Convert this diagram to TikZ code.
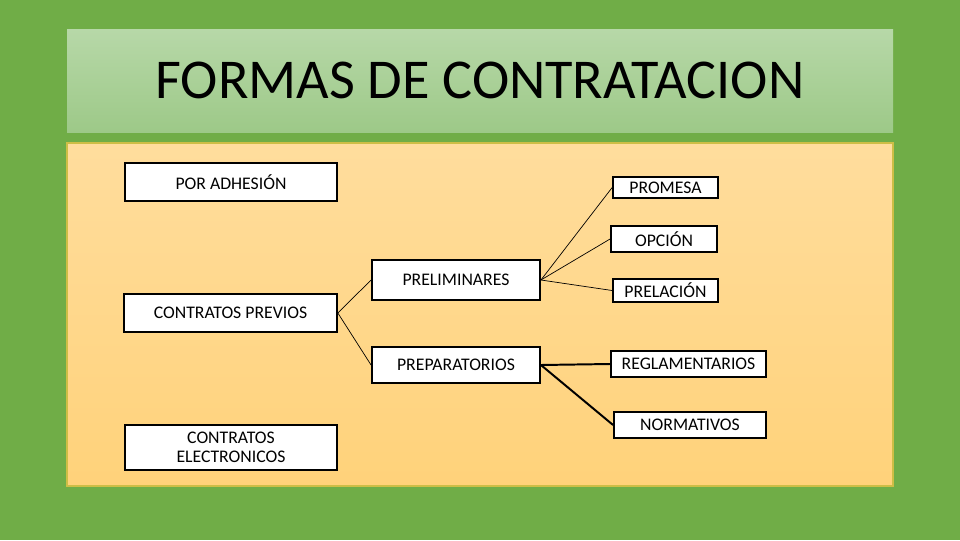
\documentclass[tikz,border=0pt]{standalone}
\usepackage{fontspec}
\setmainfont{Carlito}
\usepackage{tikz}
\usetikzlibrary{positioning}
\definecolor{fondoverde}{RGB}{112,173,71}
\definecolor{tituloarriba}{RGB}{183,216,168}
\definecolor{tituloabajo}{RGB}{157,201,136}
\definecolor{panelarriba}{RGB}{255,221,157}
\definecolor{panelabajo}{RGB}{255,210,122}
\definecolor{panelborde}{RGB}{205,190,70}

\begin{document}
\begin{tikzpicture}[x=0.025cm, y=-0.025cm,
    caja/.style={draw=black, fill=white, line width=1.3pt, inner sep=0pt, align=center, font=\fontsize{12.6}{13.5}\selectfont},
    rama/.style={line width=0.5pt},
    ramagruesa/.style={line width=1.4pt}
  ]
  % fondo y paneles
  \fill[fondoverde] (0,0) rectangle (960,540);
  \shade[top color=tituloarriba, bottom color=tituloabajo] (67,29) rectangle (893,132);
  \shade[top color=panelarriba, bottom color=panelabajo, draw=panelborde, line width=0.8pt] (67,143) rectangle (893,486);
  \node (titulo) at (480,80) {\fontsize{40}{44}\selectfont FORMAS DE CONTRATACION};

  % columna izquierda
  \node[caja, minimum width=5.3cm, minimum height=0.95cm] (adhesion) at (231,182) {POR ADHESIÓN};
  \node[caja, minimum width=5.32cm, minimum height=0.95cm] (previos) at (230.5,313) {CONTRATOS PREVIOS};
  \node[caja, minimum width=5.3cm, minimum height=1.12cm] (electronicos) at (231,447.5) {CONTRATOS\\ELECTRONICOS};

  % columna central
  \node[caja, minimum width=4.2cm, minimum height=1cm] (preliminares) at (456,280) {PRELIMINARES};
  \node[caja, minimum width=4.2cm, minimum height=0.9cm] (preparatorios) at (456,365) {PREPARATORIOS};

  % columna derecha
  \node[caja, minimum width=2.62cm, minimum height=0.52cm] (promesa) at (665.5,187.5) {PROMESA};
  \node[caja, minimum width=2.65cm, minimum height=0.65cm] (opcion) at (664,239) {OPCIÓN};
  \node[caja, minimum width=2.62cm, minimum height=0.58cm] (prelacion) at (665.5,290.5) {PRELACIÓN};
  \node[caja, minimum width=3.87cm, minimum height=0.65cm] (reglamentarios) at (688.5,364) {REGLAMENTARIOS};
  \node[caja, minimum width=3.8cm, minimum height=0.65cm] (normativos) at (690,425) {NORMATIVOS};

  % conectores
  \draw[rama] (previos.east) -- (preliminares.west);
  \draw[rama] (previos.east) -- (preparatorios.west);
  \draw[rama] (preliminares.east) -- (promesa.west);
  \draw[rama] (preliminares.east) -- (opcion.west);
  \draw[rama] (preliminares.east) -- (prelacion.west);
  \draw[ramagruesa] (preparatorios.east) -- (reglamentarios.west);
  \draw[ramagruesa] (preparatorios.east) -- (normativos.west);
\end{tikzpicture}
\end{document}
